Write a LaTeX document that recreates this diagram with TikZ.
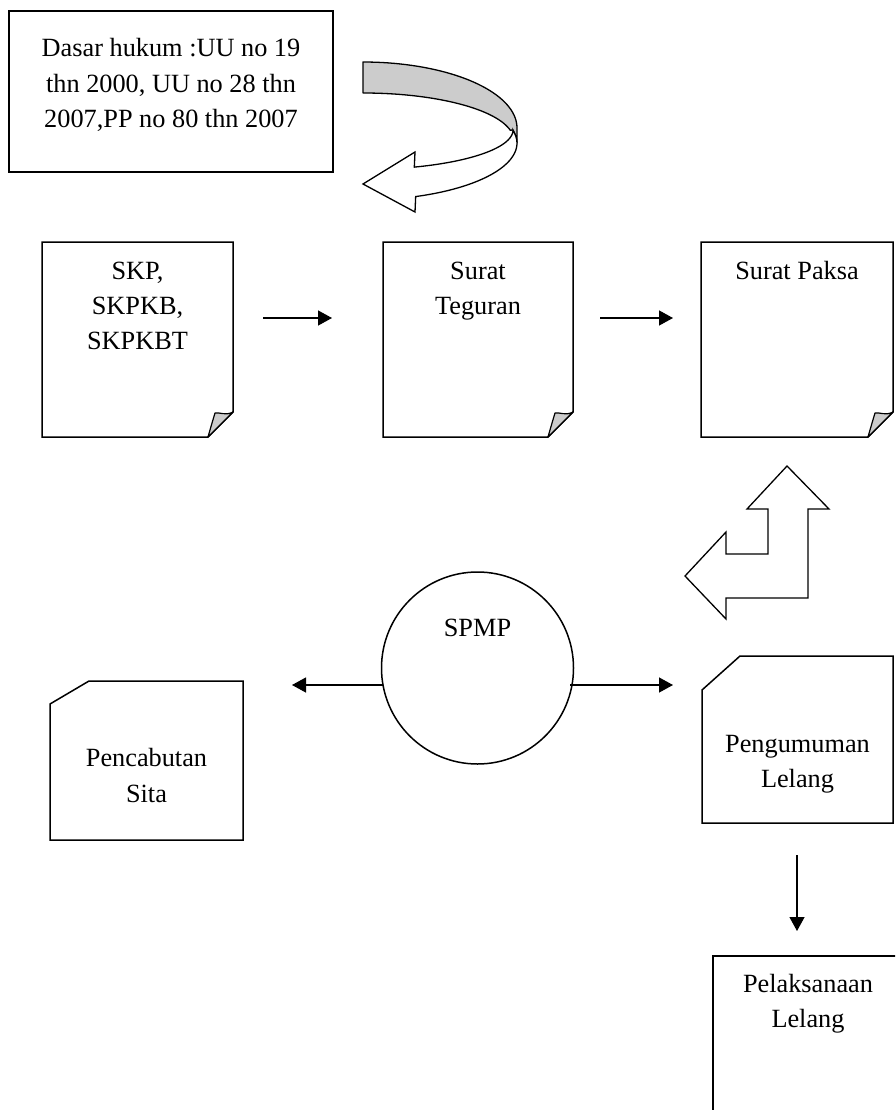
\documentclass[tikz,border=0pt]{standalone}
\usepackage{fontspec}
\setmainfont{Liberation Serif}
\usetikzlibrary{arrows.meta}
\tikzset{
  boxline/.style={draw=black, line width=1.5pt, line join=miter},
  foldfill/.style={draw=black, line width=1.2pt, fill=black!20, line join=round},
  lbl/.style={font=\fontsize{26.3}{35.5}\selectfont, inner sep=0pt, anchor=base},
  conn/.style={line width=1.3pt, -{Triangle[length=14pt,width=15pt]}},
  shapeline/.style={draw=black, line width=1.3pt, fill=white, line join=miter}
}
\newcommand{\foldbox}[4]{% L T R B
  \draw[boxline] (#1,#2) -- (#3,#2) -- (#3,#4-25) -- (#3-25,#4) -- (#1,#4) -- cycle;
  \filldraw[foldfill] (#3,#4-25) .. controls (#3-7,#4-21) and (#3-14,#4-25) .. (#3-18,#4-24)
     .. controls (#3-21,#4-14) .. (#3-25,#4) -- cycle;
}
\begin{document}
\begin{tikzpicture}[x=1pt,y=-1pt]
\clip (0,0) rectangle (895,1110);
\fill[white] (0,0) rectangle (895,1110);

% Dasar hukum box
\draw[boxline] (9,11) rectangle (333,172);
\node[lbl] (d1) at (171,57) {Dasar hukum :UU no 19};
\node[lbl] (d2) at (171,93) {thn 2000, UU no 28 thn};
\node[lbl] (d3) at (171,128) {2007,PP no 80 thn 2007};

% curved arrow
\filldraw[draw=black, line width=1.3pt, fill=black!20, line join=round]
  (363,62) -- plot[domain=90:0, samples=40] ({363+154*cos(\x)},{128-66*sin(\x)})
  -- (517,143) .. controls (517,138) and (515,134) .. (513,130) -- (510.2,130.2)
  -- plot[domain=12:90, samples=40] ({363+150.5*cos(\x)},{140-47*sin(\x)}) -- cycle;
\filldraw[draw=black, line width=1.3pt, fill=white, line join=miter]
  (517,143) -- plot[domain=0:-70, samples=40] ({363+154*cos(\x)},{143-57*sin(\x)})
  -- (415,212) -- (363,184) -- (415,152) -- (414.3,167.1)
  -- plot[domain=-70:0, samples=40] ({363+150*cos(\x)},{130-39.5*sin(\x)})
  .. controls (515,134) and (517,138) .. (517,143);

% folded documents
\foldbox{42}{242}{233}{437}
\node[lbl] (s1) at (137.5,279) {SKP,};
\node[lbl] (s2) at (137.5,314) {SKPKB,};
\node[lbl] (s3) at (137.5,349) {SKPKBT};
\foldbox{383}{242}{573}{437}
\node[lbl] (t1) at (478,279) {Surat};
\node[lbl] (t2) at (478,314) {Teguran};
\foldbox{701}{242}{893}{437}
\node[lbl] (p1) at (797,279) {Surat Paksa};

\coordinate (a1s) at (263,318); \coordinate (a1e) at (332,318);
\coordinate (a2s) at (600,318); \coordinate (a2e) at (673,318);
\draw[conn] (a1s) -- (a1e);
\draw[conn] (a2s) -- (a2e);

% bent arrow
\draw[shapeline] (787,466) -- (829,509) -- (808,509) -- (808,598) -- (726,598)
  -- (726,619) -- (685,576) -- (726,532) -- (726,554) -- (768,554) -- (768,509)
  -- (747,509) -- cycle;

% SPMP circle
\draw[line width=1.5pt] (477.5,668) circle[radius=96];
\node[lbl] (spmp) at (477.5,636) {SPMP};
\coordinate (l1s) at (383,685); \coordinate (l1e) at (292,685);
\coordinate (r1s) at (570,685); \coordinate (r1e) at (673,685);
\draw[conn] (l1s) -- (l1e);
\draw[conn] (r1s) -- (r1e);

% Pencabutan Sita
\draw[boxline] (50,704) -- (89,681) -- (243,681) -- (243,840) -- (50,840) -- cycle;
\node[lbl] (c1) at (146.5,766) {Pencabutan};
\node[lbl] (c2) at (146.5,802) {Sita};

% Pengumuman Lelang
\draw[boxline] (702,690) -- (740,656) -- (893,656) -- (893,823) -- (702,823) -- cycle;
\node[lbl] (g1) at (797.5,752) {Pengumuman};
\node[lbl] (g2) at (797.5,787) {Lelang};

\coordinate (dns) at (797,855); \coordinate (dne) at (797,931);
\draw[conn] (dns) -- (dne);

% Pelaksanaan Lelang
\draw[boxline] (713,1120) -- (713,956) -- (910,956);
\node[lbl] (k1) at (808,992) {Pelaksanaan};
\node[lbl] (k2) at (808,1027) {Lelang};
\end{tikzpicture}
\end{document}
